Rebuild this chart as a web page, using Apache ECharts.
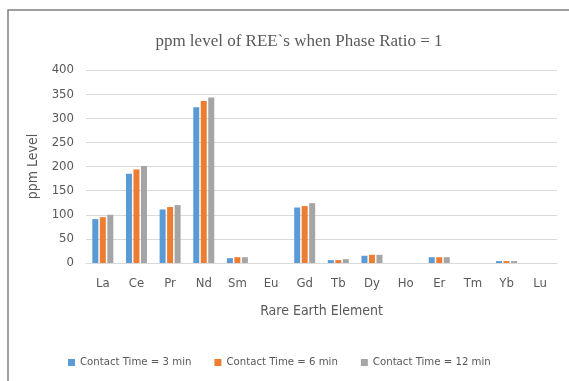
<!DOCTYPE html>
<html><head><meta charset="utf-8">
<script src="https://cdn.jsdelivr.net/npm/echarts@6/dist/echarts.min.js"></script>
<style>html,body{margin:0;padding:0;background:#fff}#c{width:569px;height:381px}</style>
</head><body><div id="c"></div>
<script>
const categories = ['La','Ce','Pr','Nd','Sm','Eu','Gd','Tb','Dy','Ho','Er','Tm','Yb','Lu'];
const seriesNames = ['Contact Time = 3 min','Contact Time = 6 min','Contact Time = 12 min'];
const t3 = [91, 185, 111, 323, 10, 0, 115, 6, 15, 0, 12, 0, 4, 0];
const t6 = [95, 194, 116, 336, 12, 0, 118, 6, 17, 0, 12, 0, 4, 0];
const t12 = [100, 201, 120, 343, 12, 0, 124, 8, 17, 0, 12, 0, 4, 0];
const colors = ['#5B9BD5','#ED7D31','#A5A5A5'];
const font = "'Liberation Sans Narrow','DejaVu Sans Condensed',sans-serif";
const chart = echarts.init(document.getElementById('c'));
const mk = (name, data, i) => ({
  name, type:'bar', data, barWidth:6, barGap:'25%',
  itemStyle:{color:colors[i]}
});
chart.setOption({
  animation:false,
  textStyle:{fontFamily:font},
  title:{text:'ppm level of REE`s when Phase Ratio = 1', left:294, top:28, textAlign:'center',
    textStyle:{fontFamily:"'Liberation Serif','Times New Roman',serif", fontWeight:'normal', fontSize:17, color:'#595959'}},
  graphic:[{type:'rect', shape:{x:8,y:10,width:700,height:500}, style:{fill:'none', stroke:'#808080', lineWidth:1.5}, silent:true}],
  grid:{left:86, right:12, top:70, bottom:118},
  legend:{top:352, left:63, itemWidth:7, itemHeight:7, itemGap:23, icon:'rect',
    textStyle:{fontFamily:font, fontSize:11.3, color:'#595959'}},
  xAxis:{type:'category', data:categories, name:'Rare Earth Element', nameLocation:'middle', nameGap:41,
    nameTextStyle:{fontSize:14, color:'#595959', fontFamily:font},
    axisLine:{lineStyle:{color:'#d9d9d9'}}, axisTick:{show:false},
    axisLabel:{fontSize:13, color:'#595959', margin:14, fontFamily:font}},
  yAxis:{type:'value', min:0, max:400, interval:50, name:'ppm Level', nameLocation:'middle', nameGap:45,
    nameTextStyle:{fontSize:14, color:'#595959', fontFamily:font},
    axisLine:{show:false}, axisTick:{show:false},
    axisLabel:{fontSize:13, color:'#595959', margin:12, fontFamily:font},
    splitLine:{lineStyle:{color:'#d9d9d9', width:1.2}}},
  series:[mk(seriesNames[0], t3, 0), mk(seriesNames[1], t6, 1), mk(seriesNames[2], t12, 2)]
});
</script></body></html>
